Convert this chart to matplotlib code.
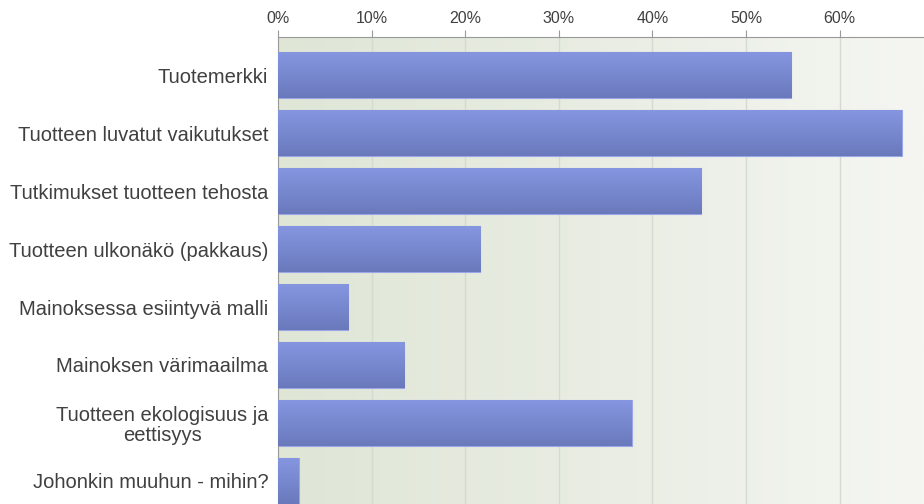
import numpy as np
from matplotlib import pyplot as plt
from matplotlib.colors import LinearSegmentedColormap
from matplotlib.transforms import ScaledTranslation

categories = [
    "Tuotemerkki",
    "Tuotteen luvatut vaikutukset",
    "Tutkimukset tuotteen tehosta",
    "Tuotteen ulkonäkö (pakkaus)",
    "Mainoksessa esiintyvä malli",
    "Mainoksen värimaailma",
    "Tuotteen ekologisuus ja\neettisyys",
    "Johonkin muuhun - mihin?",
]
values = [54.8, 66.6, 45.2, 21.6, 7.5, 13.5, 37.8, 2.2]
ticks = [0, 10, 20, 30, 40, 50, 60]
tick_labels = [f"{t}%" for t in ticks]

plt.rcParams["font.family"] = ["Liberation Sans", "DejaVu Sans"]

fig = plt.figure(figsize=(9.24, 5.04), dpi=100)
ax = fig.add_axes([278 / 924, 0, 1 - 278 / 924, 1 - 37 / 504])

xmax = 69.0
ymin, ymax = 7.40, -0.66
ax.set_xlim(0, xmax)
ax.set_ylim(ymin, ymax)

# background: greenish on the left fading to near white on the right
bg_cmap = LinearSegmentedColormap.from_list("bg", ["#dfe6d6", "#e9ede3", "#f5f6f2"])
ax.imshow(
    np.linspace(0, 1, 256).reshape(1, -1),
    cmap=bg_cmap,
    extent=[0, xmax, ymin, ymax],
    aspect="auto",
    zorder=0,
)

for t in ticks[1:]:
    ax.axvline(t, color="#d5d9d0", lw=1, zorder=1)

# bars with a vertical gradient
bar_cmap = LinearSegmentedColormap.from_list("bar", ["#8595df", "#7888cf", "#6a79bb"])
y = np.arange(len(categories))
bars = ax.barh(y, values, height=0.79, color="#7888cf", edgecolor="#9aa6e6", lw=0.8, zorder=2)
for b in bars:
    x0, y0 = b.get_x(), b.get_y()
    w, h = b.get_width(), b.get_height()
    im = ax.imshow(
        np.linspace(0, 1, 64).reshape(-1, 1),
        cmap=bar_cmap,
        extent=[x0, x0 + w, y0 + h, y0],
        aspect="auto",
        zorder=3,
    )
    im.set_clip_path(b)

ax.set_xlim(0, xmax)
ax.set_ylim(ymin, ymax)

ax.set_yticks(y)
ax.set_yticklabels(categories, fontsize=14.5, color="#404040",
                   multialignment="center", linespacing=1.05)
# the two-line label sits a little above its bar
two_line = ax.get_yticklabels()[6]
two_line.set_transform(two_line.get_transform() + ScaledTranslation(0, 8 / 100, fig.dpi_scale_trans))

ax.set_xticks(ticks)
ax.set_xticklabels(tick_labels, fontsize=11.5, color="#404040")
ax.xaxis.tick_top()
ax.tick_params(axis="x", direction="out", length=5, color="#999999", pad=3)
ax.tick_params(axis="y", length=0, pad=7)

for side in ["right", "bottom"]:
    ax.spines[side].set_visible(False)
ax.spines["top"].set_color("#999999")
ax.spines["left"].set_color("#999999")

fig.savefig("out.png", dpi=100)
